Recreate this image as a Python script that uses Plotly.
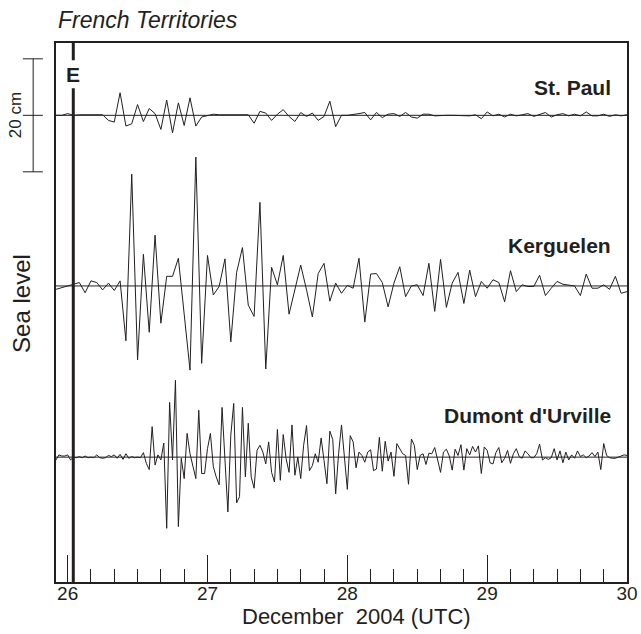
import numpy as np
import plotly.graph_objects as go

# Tide-gauge sea-level residuals (cm), French territories, 26-30 December 2004.
# Series start 25 Dec 2004 22:00 UTC; St. Paul and Kerguelen are hourly,
# Dumont d'Urville is half-hourly.
START_DAY = 25 + 22 / 24
END_DAY = 30.0
EVENT_DAY = 26 + 58 / 1440          # earthquake origin time, 00:58 UTC

st_paul_cm = [
    0, 0, 0.3, 0, 0.1, 0.1, 0.1, 0, 0.1, -0.9,
    -1.2, 4.0, -1.9, -1.5, 1.9, -1.1, 1.2, 0.3, -2.5, 2.7,
    -3.1, 2.2, -1.8, 3.1, -1.9, -0.3, -0.1, 0.2, 0.1, 0.1,
    0.2, 0.1, 0.1, 0.1, -1.4, 0.7, 0.4, -0.9, 0.2, 1.0,
    -0.2, -1.1, 0.5, -0.2, 0.4, -0.9, -0.2, 2.5, -2.0, 0,
    0, 0.1, 0.3, 0.5, -0.8, 0.5, -0.4, 0.2, 0.3, -0.2,
    0.5, -0.3, -0.5, 0.2, 0.2, -0.1, 0, 0, 0, 0,
    0, -0.1, 0.1, -0.6, 0.6, -0.1, 0.2, -0.3, 0.2, -0.1,
    0.1, 0.3, -0.2, 0.1, 0.5, -0.3, 0.1, 0.3, -0.1, 0.2,
    -0.1, 0.6, -0.1, -0.1, 0.2, -0.2, 0.1, -0.1, 0.1,
]

kerguelen_cm = [
    -0.6, -0.3, 0.0, 0.2, 0.6, -1.2, 0.9, 0.6, -0.7, 0.5,
    -0.8, 0.9, -9.7, 19.8, -13.1, 5.6, -8.2, 9.0, -6.6, 1.7,
    1.7, 4.9, -5.0, -14.9, 22.8, -13.7, 5.4, -1.6, -0.1, 4.8,
    -9.9, 2.4, 6.8, -3.4, -5.4, 14.8, -14.7, 3.3, 0.2, 5.4,
    -5.0, -0.7, 3.7, -0.7, -5.5, 2.2, 4.0, -2.7, 0.5, -1.3,
    0.1, -0.4, 4.9, -6.4, 2.1, 2.2, 0.6, -3.7, 0.5, 3.4,
    -1.9, 0.0, 0.2, -1.7, 4.0, -4.5, 4.7, -3.8, 0.5, 2.4,
    -3.1, 2.8, -1.9, 0.8, -0.4, 1.1, 0.6, -2.8, 2.7, -1.0,
    0.2, -0.1, -0.1, 1.9, -1.7, -0.4, 0.8, 0.3, 0.2, 0.0,
    -1.7, 2.1, -0.4, -0.4, 0.2, -0.6, 1.7, -1.3, -1.0,
]

dumont_cm = [
    -0.5, 0.4, 0.2, 0.2, 0.4, -0.5, 0.0, -0.1, 0.1, -0.1,
    0.2, -0.1, 0.0, -0.1, 0.4, -0.1, -0.2, -0.1, 0.3, 0.1,
    0.4, -0.2, 0.5, -0.4, 0.6, -0.2, 0.1, -0.1, 0.0, -0.1,
    0.8, -1.1, -2.2, 5.4, -1.4, 0.4, -0.5, 2.5, -12.6, 9.7,
    -0.5, 13.6, -12.3, -0.2, -3.8, 4.2, 0.6, -1.7, -3.8, 8.3,
    -2.9, -2.9, 1.5, 4.2, -1.7, -3.5, -4.9, 8.8, 0.6, -9.7,
    3.9, 9.5, -8.1, -7.0, 8.8, -3.5, 6.0, -3.5, -5.5,
    1.2, 2.1, 0.9, -1.2, 2.7, -2.7, -4.4, 4.9, -4.1, 4.0,
    -0.3, -2.7, 5.7, -3.2, 0.0, -3.8, 2.1, 5.6, -2.4, -1.5,
    0.6, -0.9, 3.4, -0.6, -4.7, 4.6, 3.1, -6.5, 0.6, 5.7,
    0.0, -5.7, 3.8, 2.7, -1.9, 0.9, 0.3, -0.9, 0.9, 1.3,
    -2.4, -2.1, 3.5, -2.5, 2.8, -0.7, 0.9, -3.4, 2.4, 1.5,
    0.6, 0.3, -4.8, 3.2, 2.1, -2.2, 0.3, 0.6, -1.3, 0.7,
    0.6, 1.7, -0.3, -2.7, 0.9,
    1.4, 0.2, -2.3, 1.4, 0.3, 2.2, -2.3, 1.5, 0.4, 1.9,
    0.9, 2.0, -2.9, 1.8, 1.2, -1.0, -1.2, 0.8, 1.7, -1.0,
    -0.2, 1.2, -1.1, 0.6, 1.5, 0.1, -0.2, 1.1, 0.6, -0.1,
    -0.1, 0.6, 2.3, -0.5, -0.1, -0.4, -0.1, 1.5, -0.5, 1.1,
    -1.0, 0.9, -0.5, 0.4, -0.2, 1.1, 0.1, 0.4, -0.1, 0.2,
    0.8, 0.1, 0.9, -2.2, 2.4, 0.3, -0.1, -0.2, -0.2, 0.0,
    0.2, 0.4, 0.3,
]

station_names = ["St. Paul", "Kerguelen", "Dumont d'Urville"]
station_series = [st_paul_cm, kerguelen_cm, dumont_cm]
sample_hours = [1.0, 1.0, 0.5]
# vertical offsets (cm) that stack the three records
station_offsets = [82.6, 52.4, 22.1]
label_heights = [4.9, 7.2, 7.4]

Y_SPAN = 95.4          # cm shown over the full panel height
SCALE_BAR_CM = 20

INK = "#231f20"
FONT = "Liberation Sans, Arial, Helvetica, sans-serif"

fig = go.Figure()

for name, vals, dt_h, off in zip(station_names, station_series, sample_hours, station_offsets):
    vals = np.asarray(vals, dtype=float)
    t = START_DAY + np.arange(len(vals)) * dt_h / 24.0
    fig.add_trace(go.Scatter(
        x=t, y=vals + off, mode="lines", name=name,
        line=dict(color=INK, width=1), hoverinfo="skip", showlegend=False,
    ))
    # zero reference line for the station
    fig.add_shape(type="line", xref="x domain", yref="y", x0=0, x1=1, y0=off, y1=off,
                  line=dict(color=INK, width=1))

# station names
for name, off, dh in zip(station_names, station_offsets, label_heights):
    fig.add_annotation(x=29.9, y=off + dh, xref="x", yref="y", text=f"<b>{name}</b>",
                       showarrow=False, xanchor="right", yanchor="middle",
                       font=dict(family=FONT, size=21, color=INK))

# earthquake time marker, broken around its label
e_gap_low, e_gap_high = 0.916, 0.968
fig.add_shape(type="line", xref="x", yref="paper", x0=EVENT_DAY, x1=EVENT_DAY,
              y0=0, y1=e_gap_low, line=dict(color=INK, width=3))
fig.add_shape(type="line", xref="x", yref="paper", x0=EVENT_DAY, x1=EVENT_DAY,
              y0=e_gap_high, y1=1, line=dict(color=INK, width=3))
fig.add_annotation(x=EVENT_DAY, y=(e_gap_low + e_gap_high) / 2, xref="x", yref="paper",
                   text="<b>E</b>", showarrow=False, xanchor="center", yanchor="middle",
                   font=dict(family=FONT, size=21, color=INK))

# 20 cm scale bar beside the St. Paul record
mid = station_offsets[0] / Y_SPAN
half = (SCALE_BAR_CM / 2) / Y_SPAN
bar_x, tick_l, tick_r = -0.040, -0.058, -0.023
fig.add_shape(type="line", xref="paper", yref="paper", x0=bar_x, x1=bar_x,
              y0=mid - half, y1=mid + half, line=dict(color=INK, width=1))
for yy in (mid - half, mid, mid + half):
    fig.add_shape(type="line", xref="paper", yref="paper", x0=tick_l, x1=tick_r,
                  y0=yy, y1=yy, line=dict(color=INK, width=1))
fig.add_annotation(x=-0.072, y=mid, xref="paper", yref="paper", text=f"{SCALE_BAR_CM} cm",
                   textangle=-90, showarrow=False, xanchor="center", yanchor="middle",
                   font=dict(family=FONT, size=17, color=INK))

# panel heading
fig.add_annotation(x=0.0, y=1.043, xref="paper", yref="paper", text="<i>French Territories</i>",
                   showarrow=False, xanchor="left", yanchor="middle",
                   font=dict(family=FONT, size=23, color=INK))

# axis titles
fig.add_annotation(x=-0.0595, y=0.516, xref="paper", yref="paper", text="Sea level",
                   textangle=-90, showarrow=False, xanchor="center", yanchor="middle",
                   font=dict(family=FONT, size=24, color=INK))
fig.add_annotation(x=0.527, y=-0.064, xref="paper", yref="paper",
                   text="December\u00a0 2004 (UTC)", showarrow=False,
                   xanchor="center", yanchor="middle",
                   font=dict(family=FONT, size=22, color=INK))

fig.update_layout(
    width=641, height=634,
    margin=dict(l=56, r=14, t=43, b=52),
    paper_bgcolor="white", plot_bgcolor="white",
    font=dict(family=FONT, color=INK),
    xaxis=dict(
        range=[START_DAY, END_DAY], tick0=26, dtick=1,
        ticks="inside", ticklen=27, tickwidth=1, tickcolor=INK,
        tickfont=dict(size=19, color=INK), ticklabelstandoff=-7,
        minor=dict(ticks="inside", ticklen=13, tickwidth=1, tickcolor=INK,
                   tick0=26, dtick=1 / 6, showgrid=False),
        showline=True, linewidth=1.5, linecolor=INK, mirror=True,
        showgrid=False, zeroline=False, automargin=False,
    ),
    yaxis=dict(
        range=[0, Y_SPAN], showticklabels=False, ticks="",
        showline=True, linewidth=1.5, linecolor=INK, mirror=True,
        showgrid=False, zeroline=False, automargin=False,
    ),
)

fig.write_html("out.html")
